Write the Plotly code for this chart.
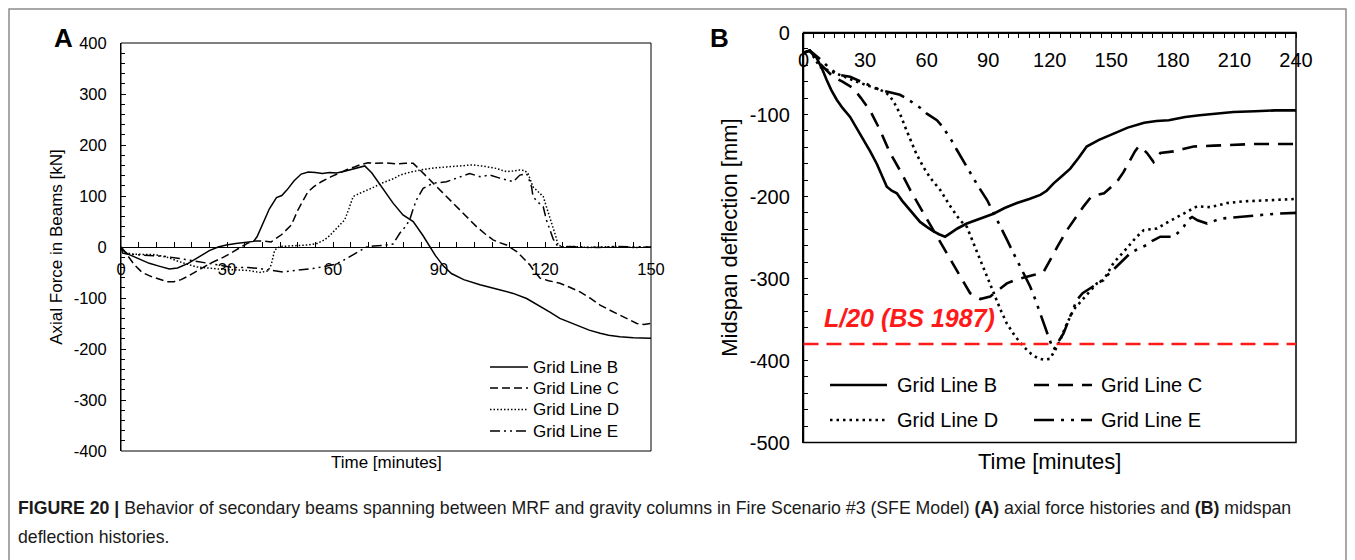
import plotly.graph_objects as go

# ---------------- Panel A : axial force histories ----------------
a_B_t = [0, 0.5, 2, 4.5, 8, 11, 13.7, 16, 19, 22.2, 25, 27.5, 29.8, 32.5, 35.5, 37.5, 38.5, 39.5, 40.5, 42,
         44, 45.5, 47, 49, 51, 53, 55, 57, 59, 61, 63, 65, 67, 69, 71, 73, 75, 77, 79.8, 82.7,
         85.5, 87.4, 89, 91.2, 93.5, 97, 101.6, 106, 111, 114.8, 118.6, 121.5, 124.2, 127, 129.9, 132.5,
         135.6, 138, 141.2, 145, 150]
a_B_f = [0, -12, -14, -22, -32, -38, -43, -41, -32, -19, -7, 0, 4, 7, 10, 11, 20, 35, 52, 75,
         97, 101, 112, 130, 143, 147, 146, 144, 146, 145, 148, 152, 155, 159, 145, 125, 104, 86, 63, 50,
         22, 0, -17, -37, -52, -64, -74, -82, -91, -101, -116, -128, -140, -148, -156, -163,
         -169, -173, -176, -178, -179]

a_C_t = [0, 1, 2, 3.8, 6, 8.6, 11, 13, 15, 17, 19, 21.8, 25, 29.3, 32, 34, 36, 37.8, 40, 42.5,
         45.4, 48.2, 50.1, 52.9, 54.5, 56.7, 59.5, 62.4, 64, 66.1, 68, 69.9, 72, 75, 78, 80.5, 82.7, 84.5,
         86.5, 89.3, 92, 95, 97.8, 100.6, 103, 105.3, 107, 109.1, 112, 113.8, 115.7, 117, 118.6, 121,
         124.2, 127, 129.9, 132.7, 135.6, 138.4, 141.2, 143.6, 146, 148, 150]
a_C_f = [0, -8, -18, -35, -50, -58, -64, -68, -68, -64, -57, -45, -33, -19, -9, 0, 8, 12, 12, 10,
         24, 43, 73, 108, 118, 128, 138, 148, 152, 157, 162, 165, 164, 165, 163, 164, 164, 152,
         138, 118, 100, 79, 60, 40, 26, 14, 9, 4, -9, -22, -35, -48, -61, -66,
         -71, -79, -88, -100, -114, -124, -133, -142, -150, -152, -150]

a_D_t = [0, 1, 3, 6, 9.5, 13, 16.6, 21.3, 25, 29, 33, 36, 39.2, 41.6, 42.5, 43, 43.5, 45, 47.2,
         50, 52.9, 55.5, 57.6, 59, 60.5, 62, 63.3, 64.5, 65.7, 67.8, 69.9, 71.8, 73.7, 75.5, 77.5, 78.9,
         82, 85.5, 88.5, 92.1, 96, 99.7, 103, 106.3, 108, 109.1, 111, 112.9, 114.2, 115.2, 116.6, 118,
         119.5, 120.4, 121.3, 122.3, 123, 123.7, 125, 128, 132, 136, 140, 145, 150]
a_D_f = [0, -10, -14, -14, -15, -20, -29, -39, -42, -44, -45, -46, -50, -47, -35, -20, -6, 1, 2,
         3, 4, 7, 14, 22, 33, 43, 53, 75, 99, 106, 112, 118, 125, 130, 135, 141,
         147, 152, 155, 157, 159, 161, 158, 154, 150, 148, 149, 151, 150, 144, 118, 108,
         99, 79, 60, 40, 22, 4, 0, 1, -1, 0, 1, -1, 0]

a_E_t = [0, 1.5, 4, 8, 12, 16, 20, 25, 28, 31.6, 36, 40, 45.8, 50, 54.3, 57, 60, 62.5, 64.7, 67,
         69.5, 71.5, 74, 77, 78.9, 80.5, 81.7, 82.7, 83.6, 85.5, 88.3, 92.1, 95.9, 98.7, 101.6, 104.4,
         107.2, 111, 112.9, 114.8, 115.6, 116.2, 116.6, 118, 119.5, 120.4, 122.3, 123.7, 126, 130,
         135, 140, 145, 150]
a_E_f = [0, -12, -15, -16, -18, -22, -27, -32, -36, -40, -40, -43, -49, -46, -42, -39, -35, -28, -19, -9,
         0, 2, 3, 6, 27, 40, 53, 75, 92, 115, 125, 128, 138, 144, 138, 141,
         135, 128, 141, 144, 130, 118, 99, 88, 79, 53, 16, 0, 1, 0,
         -1, 1, 0, 0]

# ---------------- Panel B : midspan deflection histories ----------------
b_B_t = [0, 3, 6.4, 9, 11.3, 13.5, 16.2, 19, 22.7, 26, 29.2, 32.5, 35.7, 38, 40.6, 43, 45.5, 48, 50.3, 53.5,
         56.8, 60.1, 63, 66, 69, 72, 75, 79.6, 86, 92.6, 98, 104, 110, 115.4, 118.5, 121.9, 126, 130, 134, 138,
         144, 151.5, 158, 166, 172, 178, 186, 193, 201, 209.5, 220, 230, 240]
b_B_d = [-25, -22, -31, -44, -58, -70, -82, -92, -103, -117, -131, -145, -160, -174, -188, -193, -196, -205, -212, -222,
         -231, -237, -242, -246, -249, -244, -239, -233, -227, -221, -214, -208, -203, -198, -193, -184, -175, -166, -153, -139,
         -131, -123, -116, -110, -108, -107, -103, -101, -99, -97, -96, -95, -95]

b_C_t = [0, 3, 8, 14.4, 19, 24.3, 28, 32.4, 37.3, 42.2, 47, 52, 58.4, 63, 68.2, 74.7, 81.2, 86.1, 91, 95,
         99.1, 104, 108.9, 113, 117, 120.2, 124, 128.4, 132.5, 136.5, 140, 143, 146.5, 149, 152.8, 156, 159.3,
         161.5, 163.3, 165, 167.4, 170.6, 173.9, 177, 180.4, 185, 190.1, 200, 209.7, 220, 230, 240]
b_C_d = [-25, -22, -38, -54, -60, -68, -80, -95, -119, -147, -168, -192, -220, -240, -261, -290, -318, -325, -322, -314,
         -306, -301, -298, -295, -292, -277, -260, -241, -226, -212, -201, -198, -196, -190, -182, -170, -155,
         -145, -139, -141, -147, -158, -147, -146, -145, -142, -139, -138, -137, -136, -136, -136]

b_D_t = [0, 3, 8, 14.5, 20, 26, 32, 37.3, 40, 42.2, 44.5, 47, 49.5, 52, 55, 58.4, 62, 66.6, 71, 76.3,
         79.6, 83, 86.1, 89.5, 92.6, 96, 99.1, 103, 107.2, 111, 114, 117, 120, 122.5, 125.1, 128, 131.6, 136.5,
         140, 143, 146.2, 151.1, 157.6, 162, 165.8, 172.3, 177, 182, 187, 191.8, 198.3, 206.4, 214, 221, 230, 240]
b_D_d = [-25, -22, -42, -48, -54, -60, -65, -70, -73, -78, -87, -99, -115, -131, -148, -164, -178, -192, -210, -229,
         -237, -258, -277, -298, -318, -338, -355, -370, -383, -392, -397, -399, -398, -388, -375, -357, -338, -324,
         -314, -306, -302, -281, -263, -250, -241, -239, -232, -225, -218, -212, -213, -208, -206, -205, -204, -203]

b_E_t = [0, 3, 8.9, 12, 15, 18, 22.7, 30, 37.3, 42, 47, 50, 53.6, 57, 60.1, 63, 65, 67.5, 69.9, 72,
         74.7, 78, 81.2, 85, 89.4, 92.5, 95.9, 99, 102.3, 106, 110.5, 113, 115.4, 117.5, 119.4, 120.7, 121.9, 123.5,
         126.7, 130, 133.3, 136, 139.8, 144.6, 149, 154, 159.3, 163, 167.4, 170, 173.9, 177, 180.4, 183, 185.3, 187,
         189.4, 192, 196.7, 203.2, 211.3, 219.4, 230, 240]
b_E_d = [-25, -22, -34, -42, -48, -52, -54, -62, -70, -73, -76, -80, -86, -92, -99, -104, -107, -114, -123, -131,
         -143, -157, -172, -187, -204, -219, -236, -252, -269, -288, -310, -326, -342, -357, -371, -380, -387, -380,
         -367, -346, -326, -318, -312, -304, -294, -282, -269, -264, -259, -254, -249, -249, -249, -243, -237, -229,
         -225, -229, -233, -227, -225, -223, -221, -220]

series_names = ["Grid Line B", "Grid Line C", "Grid Line D", "Grid Line E"]
limit_L20 = -380
limit_label = "L/20 (BS 1987)"

xA_ticks = [0, 30, 60, 90, 120, 150]
yA_ticks = [-400, -300, -200, -100, 0, 100, 200, 300, 400]
xB_ticks = [0, 30, 60, 90, 120, 150, 180, 210, 240]
yB_ticks = [-500, -400, -300, -200, -100, 0]

FONT = "Liberation Sans, Arial, sans-serif"
W, H = 1355, 560


def px(x):
    return x / W


def py(y):
    return 1 - y / H


def lab(vals):
    return [str(v) for v in vals]  # plain hyphen-minus like the original


dashA = ["solid", "8px,4px", "1.5px,2px", "10px,4px,2px,4px,2px,4px"]
dashB = ["solid", "15px,9px", "2.5px,4px", "20px,7px,3px,7px,3px,7px"]

fig = go.Figure()

a_sets = [(a_B_t, a_B_f), (a_C_t, a_C_f), (a_D_t, a_D_f), (a_E_t, a_E_f)]
for (t, v), nm, ds in zip(a_sets, series_names, dashA):
    fig.add_trace(go.Scatter(x=t, y=v, mode="lines", name=nm, xaxis="x", yaxis="y",
                             line=dict(color="black", width=1.5, dash=ds), showlegend=False))

b_sets = [(b_B_t, b_B_d), (b_C_t, b_C_d), (b_D_t, b_D_d), (b_E_t, b_E_d)]
for (t, v), nm, ds in zip(b_sets, series_names, dashB):
    fig.add_trace(go.Scatter(x=t, y=v, mode="lines", name=nm, xaxis="x2", yaxis="y2",
                             line=dict(color="black", width=2.6, dash=ds), showlegend=False))

domA_x = [px(121), px(651)]
domA_y = [py(451), py(43)]
domB_x = [px(803.5), px(1296)]
domB_y = [py(442.5), py(32.5)]

base = dict(showgrid=False, zeroline=False, automargin=False, linecolor="black", tickcolor="black")

fig.update_layout(
    width=W, height=H, margin=dict(l=0, r=0, t=0, b=0),
    template="none", paper_bgcolor="white", plot_bgcolor="white", showlegend=False,
    font=dict(family=FONT, color="black"),
    # panel A: time axis drawn along the zero line
    xaxis=dict(domain=domA_x, anchor="free", position=py(247), side="bottom", range=[0, 150],
               tickmode="array", tickvals=xA_ticks, ticktext=lab(xA_ticks),
               ticks="inside", ticklen=5, showline=True, linewidth=1,
               minor=dict(dtick=5, tick0=0, ticks="inside", ticklen=5, tickcolor="black"),
               ticklabelstandoff=7, tickfont=dict(family=FONT, size=16.5, color="black"), **base),
    yaxis=dict(domain=domA_y, anchor="x", range=[-400, 400], tickmode="array", tickvals=yA_ticks,
               ticktext=lab(yA_ticks), ticks="inside", ticklen=5, showline=True, linewidth=1,
               minor=dict(dtick=20, tick0=0, ticks="inside", ticklen=4, tickcolor="black"),
               ticklabelstandoff=10, tickfont=dict(family=FONT, size=16.5, color="black"),
               title=dict(text="Axial Force in Beams [kN]", font=dict(size=17, family=FONT), standoff=6),
               **base),
    # panel B: time axis along the top edge, ticks pointing down, labels below
    xaxis2=dict(domain=domB_x, anchor="free", position=domB_y[1], side="bottom", range=[0, 240],
                tickmode="array", tickvals=xB_ticks, ticktext=lab(xB_ticks),
                ticks="outside", ticklen=5, showline=True, linewidth=1.5,
                minor=dict(dtick=5, tick0=0, ticks="outside", ticklen=5, tickcolor="black"),
                ticklabelstandoff=5, tickfont=dict(family=FONT, size=20, color="black"), **base),
    yaxis2=dict(domain=domB_y, anchor="x2", range=[-500, 0], tickmode="array", tickvals=yB_ticks,
                ticktext=lab(yB_ticks), ticks="inside", ticklen=5, showline=True, linewidth=1.5,
                minor=dict(dtick=20, tick0=0, ticks="inside", ticklen=5, tickcolor="black"),
                ticklabelstandoff=8, tickfont=dict(family=FONT, size=20, color="black"),
                title=dict(text="Midspan deflection [mm]", font=dict(size=22, family=FONT), standoff=6),
                **base),
)

shapes = []
# outer frame of the figure
shapes.append(dict(type="rect", xref="paper", yref="paper", x0=px(9), x1=px(1346), y0=-0.05, y1=py(9),
                   line=dict(color="#8c8c8c", width=1.5), fillcolor="rgba(0,0,0,0)", layer="below"))
# plot-area boxes
shapes.append(dict(type="rect", xref="x domain", yref="y domain", x0=0, x1=1, y0=0, y1=1,
                   line=dict(color="black", width=1), fillcolor="rgba(0,0,0,0)"))
shapes.append(dict(type="rect", xref="x2 domain", yref="y2 domain", x0=0, x1=1, y0=0, y1=1,
                   line=dict(color="black", width=1.5), fillcolor="rgba(0,0,0,0)"))
# L/20 limit line
shapes.append(dict(type="line", xref="x2 domain", yref="y2", x0=0, x1=1, y0=limit_L20, y1=limit_L20,
                   line=dict(color="#ff1a1a", width=2.5, dash="15px,8px")))

annotations = []
# legend A
legA_rows = [367, 388, 409.5, 431]
for nm, ds, yy in zip(series_names, dashA, legA_rows):
    shapes.append(dict(type="line", xref="paper", yref="paper", x0=px(490), x1=px(528), y0=py(yy), y1=py(yy),
                       line=dict(color="black", width=1.5, dash=ds)))
    annotations.append(dict(text=nm, xref="paper", yref="paper", x=px(531), y=py(yy), xanchor="left",
                            yanchor="middle", showarrow=False, font=dict(size=17, family=FONT, color="black")))
# legend B (2 columns)
legB_pos = [(830, 887, 895, 385), (1034, 1092, 1099, 385), (830, 887, 895, 420), (1034, 1092, 1099, 420)]
for nm, ds, (x0, x1, xt, yy) in zip(series_names, dashB, legB_pos):
    shapes.append(dict(type="line", xref="paper", yref="paper", x0=px(x0), x1=px(x1), y0=py(yy), y1=py(yy),
                       line=dict(color="black", width=2.6, dash=ds)))
    annotations.append(dict(text=nm, xref="paper", yref="paper", x=px(xt), y=py(yy), xanchor="left",
                            yanchor="middle", showarrow=False, font=dict(size=20, family=FONT, color="black")))

annotations += [
    # x-axis titles placed under the plot boxes
    dict(text="Time [minutes]", xref="x domain", yref="paper", x=0.5, y=py(462), xanchor="center",
         yanchor="middle", showarrow=False, font=dict(size=17, family=FONT, color="black")),
    dict(text="Time [minutes]", xref="x2 domain", yref="paper", x=0.5, y=py(461), xanchor="center",
         yanchor="middle", showarrow=False, font=dict(size=22, family=FONT, color="black")),
    dict(text="<b>A</b>", xref="paper", yref="paper", x=px(63), y=py(38), xanchor="center", yanchor="middle",
         showarrow=False, font=dict(size=26, family=FONT, color="black")),
    dict(text="<b>B</b>", xref="paper", yref="paper", x=px(719), y=py(38), xanchor="center", yanchor="middle",
         showarrow=False, font=dict(size=26, family=FONT, color="black")),
    dict(text="<b><i>" + limit_label + "</i></b>", xref="paper", yref="paper", x=px(822), y=py(318),
         xanchor="left", yanchor="middle", showarrow=False, font=dict(size=25, family=FONT, color="#ff1a1a")),
    dict(text="<b>FIGURE 20 |</b> Behavior of secondary beams spanning between MRF and gravity columns in Fire "
              "Scenario #3 (SFE Model) <b>(A)</b> axial force histories and <b>(B)</b> midspan",
         xref="paper", yref="paper", x=px(16), y=py(508), xanchor="left", yanchor="middle", showarrow=False,
         font=dict(size=17.7, family=FONT, color="#1a1a1a")),
    dict(text="deflection histories.", xref="paper", yref="paper", x=px(16), y=py(537), xanchor="left",
         yanchor="middle", showarrow=False, font=dict(size=17.7, family=FONT, color="#1a1a1a")),
]

fig.update_layout(shapes=shapes, annotations=annotations)
fig.write_html("out.html")
